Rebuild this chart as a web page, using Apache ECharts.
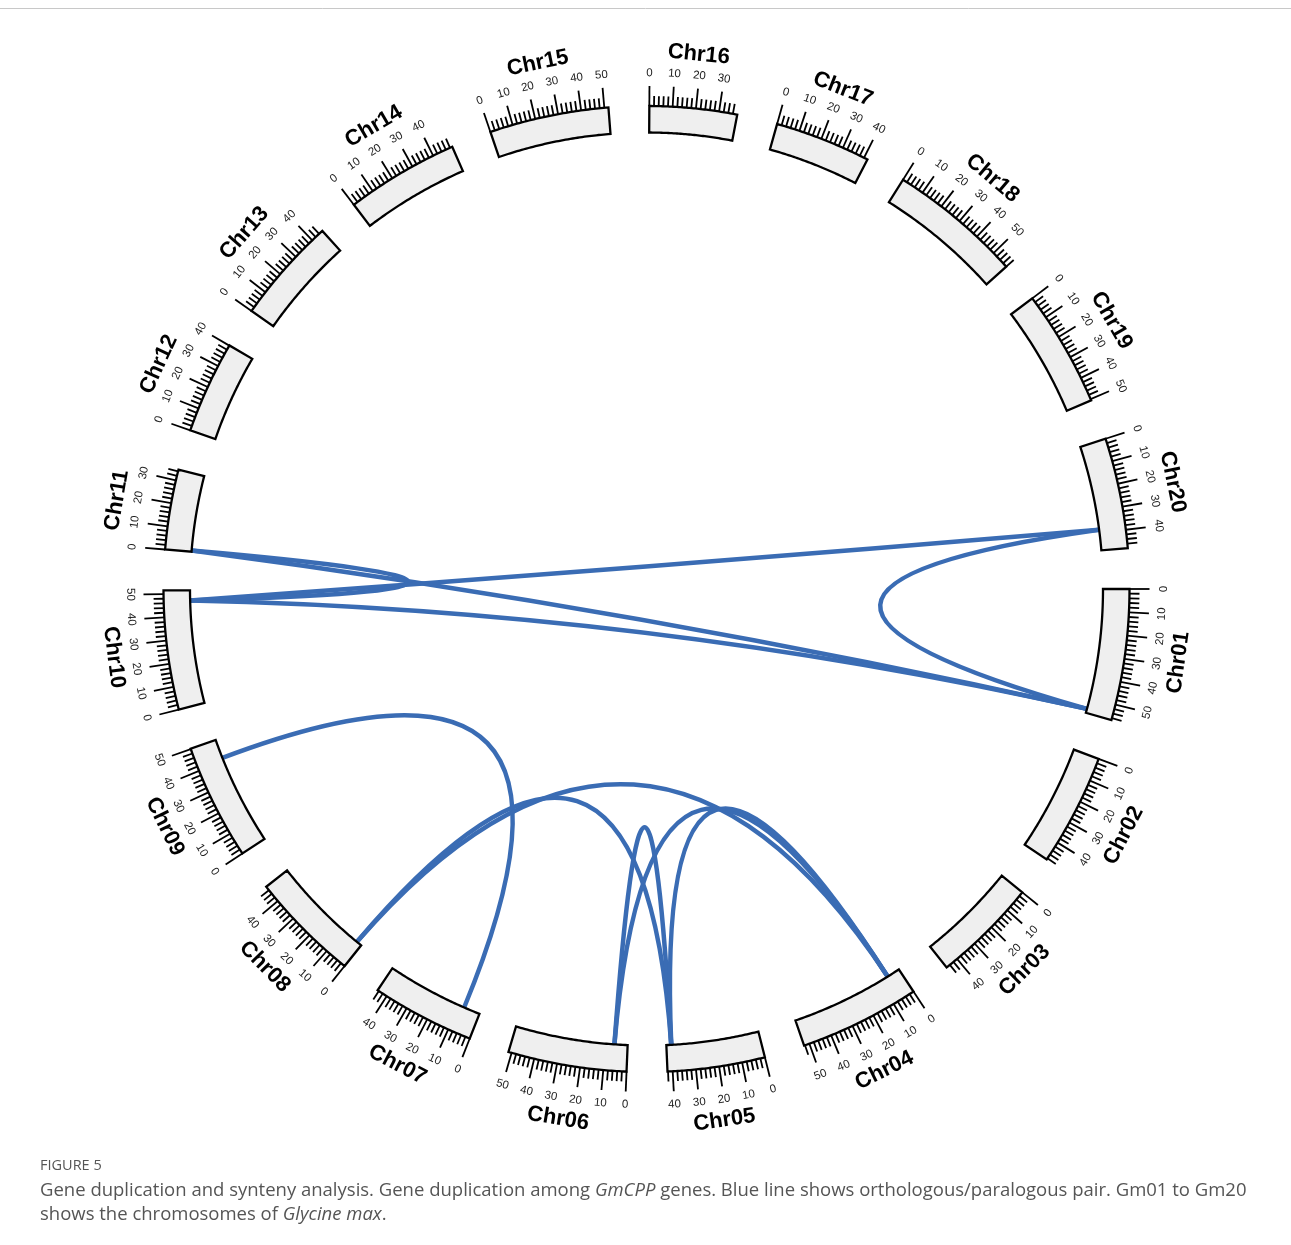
<!DOCTYPE html>
<html>
<head>
<meta charset="utf-8">
<script src="https://cdn.jsdelivr.net/npm/echarts@6/dist/echarts.min.js"></script>
<style>
  html, body { margin: 0; padding: 0; background: #fff; }
  #chart { width: 1291px; height: 1245px; }
</style>
</head>
<body>
<div id="chart"></div>
<script>
// Glycine max chromosomes and their lengths (Mb)
const chromosomes = ['Chr01', 'Chr02', 'Chr03', 'Chr04', 'Chr05', 'Chr06', 'Chr07', 'Chr08', 'Chr09', 'Chr10',
                     'Chr11', 'Chr12', 'Chr13', 'Chr14', 'Chr15', 'Chr16', 'Chr17', 'Chr18', 'Chr19', 'Chr20'];
const chromLengths = [56.83, 48.58, 45.78, 52.39, 42.23, 51.42, 44.63, 47.84, 50.19, 51.57,
                      34.77, 40.09, 45.87, 49.04, 51.76, 37.89, 41.64, 58.02, 50.59, 47.90];

// Ruler steps (Mb)
const majorTickStep = 10;
const minorTickStep = 2;

// Duplicated GmCPP gene pairs: chromosome and position (Mb) of both genes
const pairChrA = ['Chr11', 'Chr11', 'Chr10', 'Chr10', 'Chr20', 'Chr09', 'Chr08', 'Chr08', 'Chr06', 'Chr06', 'Chr05'];
const pairPosA = [0.5, 0.5, 47, 47, 38.5, 41.5, 2.5, 2.5, 6, 6, 40];
const pairChrB = ['Chr10', 'Chr01', 'Chr01', 'Chr20', 'Chr01', 'Chr07', 'Chr04', 'Chr05', 'Chr05', 'Chr04', 'Chr04'];
const pairPosB = [47, 55, 55, 38.5, 55, 7.5, 6, 40, 40, 6, 6];

// ---- layout ----
const GAP = 17.55;                       // gap between chromosomes, in Mb units of the angle axis
const offsets = [];
let acc = 0;
chromLengths.forEach(function (len) { offsets.push(acc); acc += len + GAP; });
const TOTAL = acc;

const R_IN = 456.5, R_OUT = 483;         // ideogram box
const MAJOR_LEN = 20, MINOR_LEN = 10;    // tick lengths
const R_TICK_LABEL = 516, R_NAME = 537;
const R_CTRL = 21;                       // link bezier control point distance from the centre
const LINK_COLOR = '#3a6cb4';

function facingRotation(p, c) {
  const th = Math.atan2(c[1] - p[1], p[0] - c[0]);
  return (p[1] <= c[1]) ? th - Math.PI / 2 : th + Math.PI / 2;
}

function renderChromosome(params, api) {
  const i = api.value(0);
  const start = offsets[i], len = chromLengths[i];
  const c = api.coord([0, 0]);
  const at = function (r, mb) { return api.coord([r, start + mb]); };
  const children = [];

  const pts = [];
  const n = 48;
  for (let k = 0; k <= n; k++) pts.push(at(R_IN, len * k / n));
  for (let k = n; k >= 0; k--) pts.push(at(R_OUT, len * k / n));
  children.push({
    type: 'polygon',
    shape: { points: pts },
    style: { fill: '#efefef', stroke: '#000', lineWidth: 2.3, lineJoin: 'miter' }
  });

  for (let v = 0; v <= len + 1e-9; v += minorTickStep) {
    const major = Math.abs(v % majorTickStep) < 1e-6;
    const p1 = at(R_OUT, v);
    const p2 = at(R_OUT + (major ? MAJOR_LEN : MINOR_LEN), v);
    children.push({
      type: 'line',
      shape: { x1: p1[0], y1: p1[1], x2: p2[0], y2: p2[1] },
      style: { stroke: '#000', lineWidth: 1.8 }
    });
    if (major) {
      const pl = at(R_TICK_LABEL, v);
      children.push({
        type: 'text',
        x: pl[0], y: pl[1],
        rotation: facingRotation(pl, c),
        style: {
          text: String(Math.round(v)),
          fontSize: 11.5, fontFamily: 'Liberation Sans, Arial, sans-serif',
          fill: '#222', align: 'center', verticalAlign: 'middle'
        }
      });
    }
  }

  const pn = at(R_NAME, len / 2);
  children.push({
    type: 'text',
    x: pn[0], y: pn[1],
    rotation: facingRotation(pn, c),
    style: {
      text: chromosomes[i],
      fontSize: 22, fontWeight: 'bold', fontFamily: 'Liberation Sans, Arial, sans-serif',
      fill: '#000', align: 'center', verticalAlign: 'middle'
    }
  });

  return { type: 'group', children: children };
}

function renderLink(params, api) {
  const a = offsets[api.value(0)] + api.value(1);
  const b = offsets[api.value(2)] + api.value(3);
  let mid = (a + b) / 2;
  if (Math.abs(a - b) > TOTAL / 2) mid = (mid + TOTAL / 2) % TOTAL;
  const pa = api.coord([R_IN, a]);
  const pb = api.coord([R_IN, b]);
  const pc = api.coord([R_CTRL, mid]);
  return {
    type: 'bezierCurve',
    shape: { x1: pa[0], y1: pa[1], x2: pb[0], y2: pb[1], cpx1: pc[0], cpy1: pc[1] },
    style: { stroke: LINK_COLOR, lineWidth: 4.5, fill: null, lineCap: 'butt' }
  };
}

const chromData = chromosomes.map(function (name, i) { return [i]; });
const linkData = pairChrA.map(function (name, k) {
  return [chromosomes.indexOf(name), pairPosA[k], chromosomes.indexOf(pairChrB[k]), pairPosB[k]];
});

const captionFont = 'Open Sans, Noto Sans, sans-serif';
const richStyles = {
  n: { fontFamily: captionFont, fontSize: 18.5, fill: '#555', color: '#555' },
  i: { fontFamily: captionFont, fontSize: 18.5, fontStyle: 'italic', fill: '#555', color: '#555' }
};
const chart = echarts.init(document.getElementById('chart'), null, { renderer: 'canvas' });
chart.setOption({
  backgroundColor: '#ffffff',
  animation: false,
  polar: { center: [646.5, 589], radius: 600 },
  angleAxis: { type: 'value', min: 0, max: TOTAL, startAngle: 0, clockwise: true, show: false },
  radiusAxis: { type: 'value', min: 0, max: 600, show: false },
  series: [
    {
      type: 'custom', coordinateSystem: 'polar', clip: false, z: 1,
      data: linkData, renderItem: renderLink, silent: true
    },
    {
      type: 'custom', coordinateSystem: 'polar', clip: false, z: 2,
      data: chromData, renderItem: renderChromosome, silent: true
    }
  ],
  graphic: [
    { type: 'line', shape: { x1: 0, y1: 8.5, x2: 1291, y2: 8.5 }, style: { stroke: '#c8c8c8', lineWidth: 1 } },
    {
      type: 'text', x: 40, y: 1166,
      style: { text: 'FIGURE 5', font: '14.5px ' + captionFont, fill: '#555', verticalAlign: 'middle' }
    },
    {
      type: 'text', x: 40, y: 1191,
      style: {
        text: '{n|Gene duplication and synteny analysis. Gene duplication among }{i|GmCPP}{n| genes. Blue line shows orthologous/paralogous pair. Gm01 to Gm20}',
        verticalAlign: 'middle',
        rich: richStyles
      }
    },
    {
      type: 'text', x: 40, y: 1215,
      style: {
        text: '{n|shows the chromosomes of }{i|Glycine max}{n|.}',
        verticalAlign: 'middle',
        rich: richStyles
      }
    }
  ]
});
</script>
</body>
</html>
